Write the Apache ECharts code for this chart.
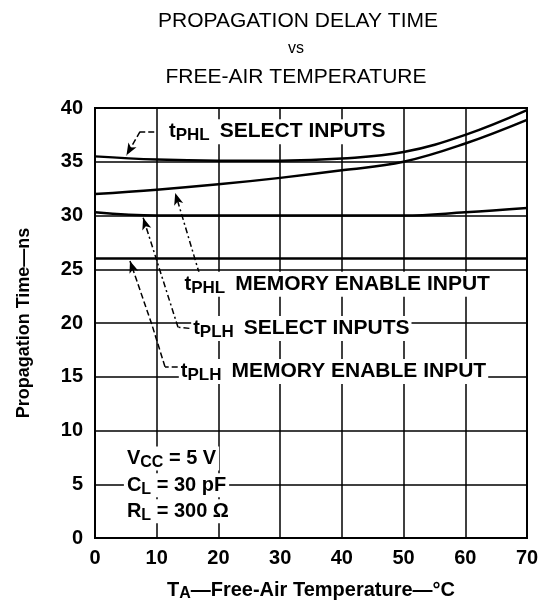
<!DOCTYPE html>
<html>
<head>
<meta charset="utf-8">
<script src="https://cdn.jsdelivr.net/npm/echarts@6/dist/echarts.min.js"></script>
<style>html,body{margin:0;padding:0;background:#fff}#c{width:545px;height:607px}</style>
</head>
<body>
<div id="c"></div>
<script>
// ---- data ----
var temps = [0, 10, 20, 30, 40, 50, 60, 70];
var tphlSelect = [35.5, 35.2, 35.1, 35.1, 35.3, 35.9, 37.5, 39.8];
var tphlMemory = [32.0, 32.4, 32.9, 33.5, 34.2, 35.0, 36.7, 38.9];
var tplhSelect = [30.3, 30.0, 30.0, 30.0, 30.0, 30.0, 30.3, 30.7];
var tplhMemory = [26.0, 26.0, 26.0, 26.0, 26.0, 26.0, 26.0, 26.0];
var xTicks = [0, 10, 20, 30, 40, 50, 60, 70];
var yTicks = [0, 5, 10, 15, 20, 25, 30, 35, 40];

// annotation anchors (data coordinates) and texts
var labelTexts = [
  '{t|t}{s|PHL}{g| }{b|SELECT INPUTS}',
  '{t|t}{s|PHL}{g| }{b|MEMORY ENABLE INPUT}',
  '{t|t}{s|PLH}{g| }{b|SELECT INPUTS}',
  '{t|t}{s|PLH}{g| }{b|MEMORY ENABLE INPUT}'
];
var labelAnchors = [[11.6, 37.8], [14.1, 23.6], [15.5, 19.5], [13.5, 15.5]];
var leaders = [
  [[9.6, 37.8], [7.3, 37.8], [5.1, 35.6]],
  [[16.9, 24.6], [13.0, 32.1]],
  [[15.3, 19.5], [13.45, 19.6], [7.8, 29.8]],
  [[13.4, 15.9], [11.34, 15.93], [9.19, 19.9], [5.67, 25.77]]
];
var condTexts = ['V{s|CC} = 5 V', 'C{s|L} = 30 pF', 'R{s|L} = 300 Ω'];
var condAnchors = [[4.6, 7.4], [4.6, 4.9], [4.6, 2.5]];
var titleLines = ['PROPAGATION DELAY TIME', 'vs', 'FREE-AIR TEMPERATURE'];

function pairs(ys) { return temps.map(function (t, i) { return [t, ys[i]]; }); }

var FONT = 'Liberation Sans';
var rich = {
  t: { fontFamily: FONT, fontSize: 20, fontWeight: 'bold', color: '#000' },
  s: { fontFamily: FONT, fontSize: 17, fontWeight: 'bold', color: '#000', padding: [8, 0, 0, 0] },
  g: { fontFamily: FONT, fontSize: 21, width: 10 },
  b: { fontFamily: FONT, fontSize: 21, fontWeight: 'bold', color: '#000' }
};

function leaderMarkLine(pts, dash) {
  var segs = [];
  for (var i = 0; i < pts.length - 1; i++) {
    var last = (i === pts.length - 2);
    segs.push([
      { coord: pts[i], symbol: 'none' },
      { coord: pts[i + 1], symbol: last ? 'arrow' : 'none', symbolSize: last ? [7, 12] : 0 }
    ]);
  }
  return {
    silent: true,
    animation: false,
    label: { show: false },
    lineStyle: { color: '#000', width: 1.5, type: dash },
    data: segs
  };
}

function labelMarkPoint(text, anchor) {
  return {
    silent: true,
    animation: false,
    symbol: 'circle',
    symbolSize: 1,
    itemStyle: { color: 'rgba(0,0,0,0)' },
    label: {
      show: true,
      position: 'right',
      distance: 0,
      formatter: text,
      backgroundColor: '#fff',
      padding: [0, 2, 0, 2],
      rich: rich
    },
    data: [{ coord: anchor }]
  };
}

function curve(name, ys, idx, dash) {
  return {
    name: name,
    type: 'line',
    smooth: 0.4,
    showSymbol: false,
    symbol: 'none',
    z: 5,
    lineStyle: { color: '#000', width: 2.5 },
    data: pairs(ys),
    markLine: leaderMarkLine(leaders[idx], dash),
    markPoint: labelMarkPoint(labelTexts[idx], labelAnchors[idx])
  };
}

var chart = echarts.init(document.getElementById('c'), null, { renderer: 'canvas' });
chart.setOption({
  animation: false,
  backgroundColor: '#fff',
  grid: { left: 95, right: 18, top: 108, bottom: 67, show: true, borderColor: '#000', borderWidth: 2, backgroundColor: 'transparent' },
  graphic: [
    { type: 'text', x: 298, y: 21, style: { text: titleLines[0], font: '21px "Liberation Sans"', fill: '#000', align: 'center', verticalAlign: 'middle' } },
    { type: 'text', x: 296, y: 49, style: { text: titleLines[1], font: '16px "Liberation Sans"', fill: '#000', align: 'center', verticalAlign: 'middle' } },
    { type: 'text', x: 296, y: 77, style: { text: titleLines[2], font: '21px "Liberation Sans"', fill: '#000', align: 'center', verticalAlign: 'middle' } }
  ],
  xAxis: {
    type: 'value', min: 0, max: 70, interval: 10,
    name: 'T{s|A}—Free-Air Temperature—°C',
    nameLocation: 'middle', nameGap: 40,
    nameTextStyle: {
      fontFamily: FONT, fontSize: 20, fontWeight: 'bold', color: '#000',
      rich: { s: { fontFamily: FONT, fontSize: 16, fontWeight: 'bold', color: '#000', padding: [8, 0, 0, 0] } }
    },
    axisLine: { show: true, lineStyle: { color: '#000', width: 2 } },
    axisTick: { show: false },
    splitLine: { show: true, lineStyle: { color: '#000', width: 1.5 } },
    axisLabel: {
      margin: 10, fontFamily: FONT, fontSize: 20, fontWeight: 'bold', color: '#000',
      formatter: function (v) { return xTicks.indexOf(v) >= 0 ? String(v) : ''; }
    }
  },
  yAxis: {
    type: 'value', min: 0, max: 40, interval: 5,
    name: 'Propagation Time—ns',
    nameLocation: 'middle', nameGap: 62,
    nameTextStyle: { fontFamily: FONT, fontSize: 18, fontWeight: 'bold', color: '#000' },
    axisLine: { show: true, lineStyle: { color: '#000', width: 2 } },
    axisTick: { show: false },
    splitLine: { show: true, lineStyle: { color: '#000', width: 1.5 } },
    axisLabel: {
      margin: 12, fontFamily: FONT, fontSize: 20, fontWeight: 'bold', color: '#000',
      formatter: function (v) { return yTicks.indexOf(v) >= 0 ? String(v) : ''; }
    }
  },
  series: [
    curve('tPHL select inputs', tphlSelect, 0, 'dashed'),
    curve('tPHL memory enable input', tphlMemory, 1, [6, 3, 2, 3]),
    curve('tPLH select inputs', tplhSelect, 2, [6, 3, 2, 3]),
    curve('tPLH memory enable input', tplhMemory, 3, 'dashed'),
    {
      name: 'conditions',
      type: 'line',
      data: [],
      markPoint: {
        silent: true, animation: false,
        symbol: 'circle', symbolSize: 1, itemStyle: { color: 'rgba(0,0,0,0)' },
        label: {
          show: true, position: 'right', distance: 0,
          backgroundColor: '#fff', padding: [0, 3, 0, 3],
          fontFamily: FONT, fontSize: 20, fontWeight: 'bold', color: '#000',
          rich: { s: { fontFamily: FONT, fontSize: 16, fontWeight: 'bold', color: '#000', padding: [8, 0, 0, 0] } },
          formatter: function (p) { return p.name; }
        },
        data: condTexts.map(function (t, i) { return { name: t, coord: condAnchors[i] }; })
      }
    }
  ]
});
</script>
</body>
</html>
